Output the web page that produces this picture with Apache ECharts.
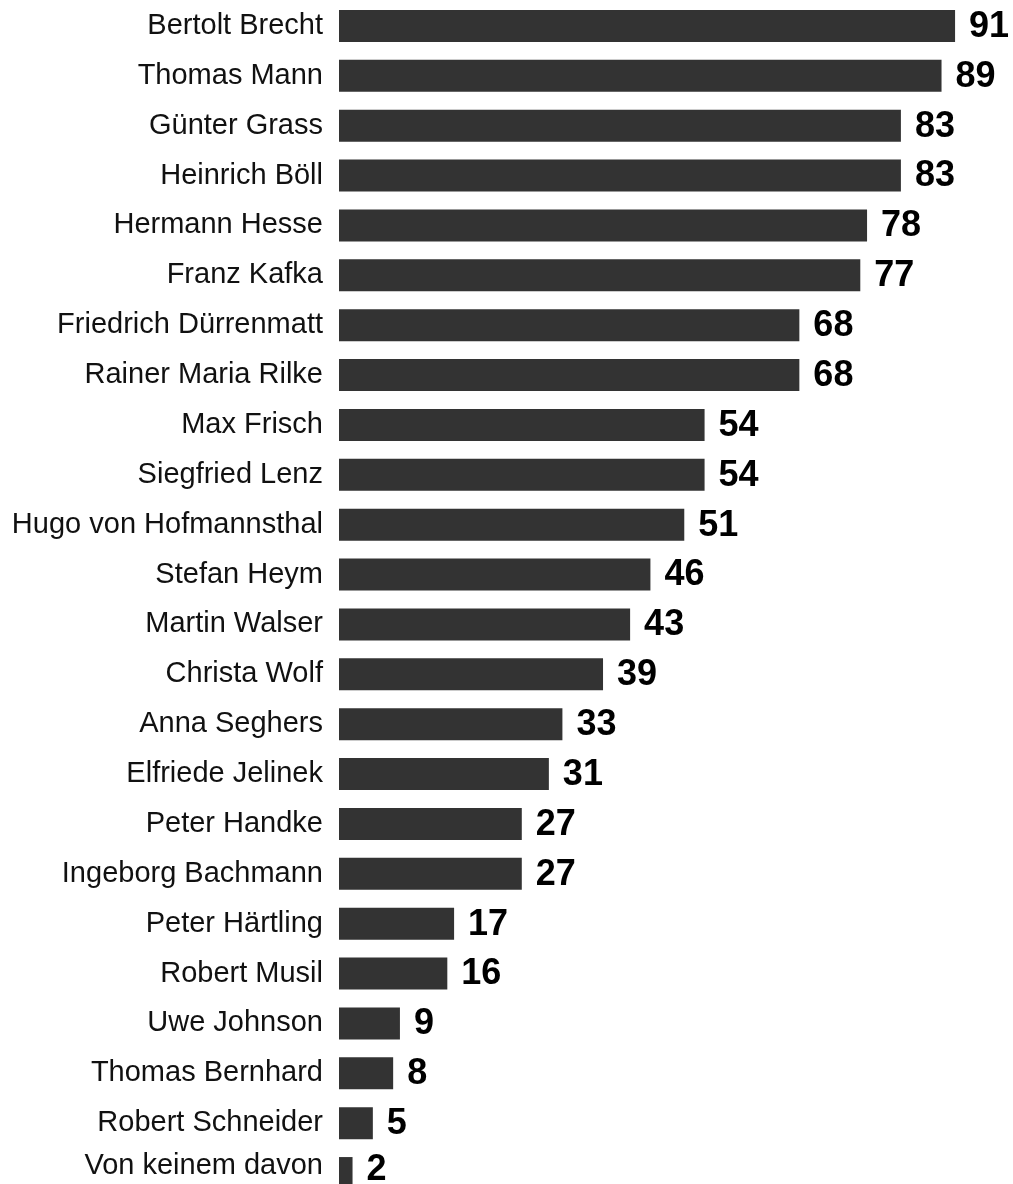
<!DOCTYPE html>
<html>
<head>
<meta charset="utf-8">
<script src="https://cdn.jsdelivr.net/npm/echarts@6/dist/echarts.min.js"></script>
<style>
  html, body { margin: 0; padding: 0; background: #fff; overflow: hidden; }
  /* a bit larger than the window so the last row can run off the bottom like the original */
  #chart { width: 1040px; height: 1220px; }
</style>
</head>
<body>
<div id="chart"></div>
<script>
    // authors, top to bottom
    var authors = [
        'Bertolt Brecht', 'Thomas Mann', 'Günter Grass', 'Heinrich Böll',
        'Hermann Hesse', 'Franz Kafka', 'Friedrich Dürrenmatt', 'Rainer Maria Rilke',
        'Max Frisch', 'Siegfried Lenz', 'Hugo von Hofmannsthal', 'Stefan Heym',
        'Martin Walser', 'Christa Wolf', 'Anna Seghers', 'Elfriede Jelinek',
        'Peter Handke', 'Ingeborg Bachmann', 'Peter Härtling', 'Robert Musil',
        'Uwe Johnson', 'Thomas Bernhard', 'Robert Schneider', 'Von keinem davon'
    ];
    var values = [91, 89, 83, 83, 78, 77, 68, 68, 54, 54, 51, 46, 43, 39, 33, 31, 27, 27, 17, 16, 9, 8, 5, 2];

    var font = "'Liberation Sans', Arial, Helvetica, sans-serif";
    var last = authors.length - 1;

    // the bottom row is cut by the edge, its value label sits a little higher
    var barData = values.map(function (v, i) {
        if (i !== last) return v;
        return { value: v, label: { offset: [0, -3] } };
    });

    var myChart = echarts.init(document.getElementById('chart'));
    var option = {
        animation: false,
        grid: {
            left: 339,
            top: 1,
            width: 677,
            height: 1197
        },
        xAxis: {
            type: 'value',
            min: 0,
            max: 100,
            show: false
        },
        yAxis: {
            type: 'category',
            inverse: true,
            data: authors,
            axisLine: { show: false },
            axisTick: { show: false },
            axisLabel: {
                color: '#111',
                fontSize: 29,
                fontFamily: font,
                margin: 16,
                formatter: function (name, i) {
                    return i === last ? '{up|' + name + '}' : name;
                },
                rich: {
                    up: {
                        color: '#111',
                        fontSize: 29,
                        fontFamily: font,
                        padding: [0, 0, 14, 0]
                    }
                }
            }
        },
        series: [{
            type: 'bar',
            data: barData,
            barWidth: 32,
            itemStyle: { color: '#333333' },
            label: {
                show: true,
                position: 'right',
                distance: 14,
                offset: [0, 1],
                color: '#000',
                fontSize: 36,
                fontWeight: 'bold',
                fontFamily: font
            }
        }]
    };
    myChart.setOption(option);
</script>
</body>
</html>
